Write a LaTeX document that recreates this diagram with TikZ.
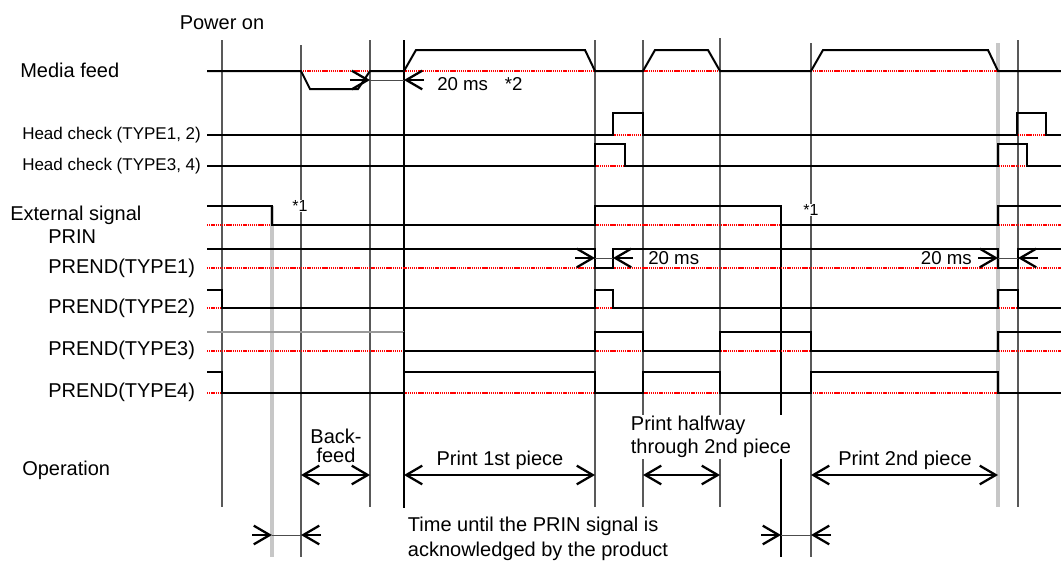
\documentclass[tikz,border=0pt]{standalone}
\usepackage{fontspec}
\setmainfont{Liberation Sans}
\usetikzlibrary{arrows.meta}
\tikzset{
    sigLine/.style={line width=1.5pt, black},
    baseLine/.style={line width=1.4pt, red, dash pattern=on 1pt off 0.6pt},
    guideLine/.style={line width=0.8pt, black!65},
    keyLine/.style={line width=1.1pt, black},
    ackLine/.style={line width=2.4pt, black!22},
    opArrow/.style={<->, line width=1.7pt},
    tickArrow/.style={->, line width=1.7pt},
    gapLine/.style={line width=0.7pt, black!70},
    sigLabel/.style={anchor=west, inner sep=0pt, font=\fontsize{15}{18}\selectfont},
    smallLabel/.style={anchor=west, inner sep=0pt, font=\fontsize{12.75}{15}\selectfont},
    msLabel/.style={inner sep=0pt, font=\fontsize{14}{16}\selectfont},
    opLabel/.style={inner sep=0.5pt, fill=white, font=\fontsize{15}{18}\selectfont}
}

\begin{document}
\begin{tikzpicture}[x=0.75pt, y=-0.75pt, >={Straight Barb[length=12pt,width=14pt]}]
    \useasboundingbox (0,0) rectangle (1061,561);
    % --- time marks ---
    \draw[ackLine] (272,206)--(272,557);
    \draw[ackLine] (998,43)--(998,507);
    \draw[guideLine] (222,40)--(222,507);
    \draw[guideLine] (301,45)--(301,557);
    \draw[guideLine] (370,40)--(370,507);
    \draw[keyLine]   (404,40)--(404,508);
    \draw[guideLine] (595,40)--(595,507);
    \draw[guideLine] (643,40)--(643,507);
    \draw[guideLine] (720,38)--(720,507);
    \draw[keyLine]   (781,206)--(781,557);
    \draw[guideLine] (811,43)--(811,557);
    \draw[guideLine] (1018,40)--(1018,507);
    % --- low levels ---
    \foreach \y in {71,135,166,225,268,308,351,393}
        \draw[baseLine] (207,\y)--(1061,\y);
    % --- signals ---
    \draw[sigLine] (207,71)--(301,71)--(310,89)--(358,89)--(370,71)--(404,71)--(416,50)--(585,50)--(595,71)--(643,71)--(655,50)--(708,50)--(720,71)--(811,71)--(823,50)--(988,50)--(998,71)--(1061,71);
    \draw[sigLine] (207,135)--(613,135)--(613,113)--(643,113)--(643,135)--(1017,135)--(1017,113)--(1046,113)--(1046,135)--(1061,135);
    \draw[sigLine] (207,166)--(595,166)--(595,144)--(625,144)--(625,166)--(998,166)--(998,144)--(1027,144)--(1027,166)--(1061,166);
    \draw[sigLine] (207,206)--(272,206)--(272,225)--(595,225)--(595,206)--(781,206)--(781,225)--(998,225)--(998,206)--(1061,206);
    \draw[sigLine] (207,249)--(595,249)--(595,268)--(613,268)--(613,249)--(998,249)--(998,268)--(1018,268)--(1018,249)--(1061,249);
    \draw[sigLine] (207,290)--(222,290)--(222,308)--(595,308)--(595,290)--(613,290)--(613,308)--(998,308)--(998,290)--(1018,290)--(1018,308)--(1061,308);
    \draw[sigLine,black!40] (207,332)--(404,332);
    \draw[sigLine] (404,332)--(404,351)--(595,351)--(595,332)--(643,332)--(643,351)--(720,351)--(720,332)--(811,332)--(811,351)--(998,351)--(998,332)--(1061,332);
    \draw[sigLine] (207,372)--(222,372)--(222,393)--(404,393)--(404,372)--(595,372)--(595,393)--(643,393)--(643,372)--(720,372)--(720,393)--(811,393)--(811,372)--(998,372)--(998,393)--(1061,393);
    % --- 20 ms gaps ---
    \coordinate (mfA) at (370,80); \coordinate (mfB) at (404,80);
    \draw[gapLine] (mfA)--(mfB);
    \draw[tickArrow] ([xshift=-15pt]mfA)--(mfA);
    \draw[tickArrow] ([xshift=15pt]mfB)--(mfB);
    \node[msLabel,anchor=west] (mfMs) at (437,84) {20 ms\hspace{0.9em}*2};
    \coordinate (e1A) at (595,258); \coordinate (e1B) at (613,258);
    \draw[gapLine] (e1A)--(e1B);
    \draw[tickArrow] ([xshift=-15pt]e1A)--(e1A);
    \draw[tickArrow] ([xshift=15pt]e1B)--(e1B);
    \node[msLabel,anchor=west] (e1Ms) at (648,258) {20 ms};
    \coordinate (e2A) at (998,258); \coordinate (e2B) at (1018,258);
    \draw[gapLine] (e2A)--(e2B);
    \draw[tickArrow] ([xshift=-15pt]e2A)--(e2A);
    \draw[tickArrow] ([xshift=15pt]e2B)--(e2B);
    \node[msLabel,anchor=east] (e2Ms) at (972,258) {20 ms};
    % --- acknowledge time ---
    \coordinate (ak1A) at (272,535); \coordinate (ak1B) at (301,535);
    \draw[gapLine] (ak1A)--(ak1B);
    \draw[tickArrow] ([xshift=-15pt]ak1A)--(ak1A);
    \draw[tickArrow] ([xshift=15pt]ak1B)--(ak1B);
    \coordinate (ak2A) at (781,535); \coordinate (ak2B) at (811,535);
    \draw[gapLine] (ak2A)--(ak2B);
    \draw[tickArrow] ([xshift=-15pt]ak2A)--(ak2A);
    \draw[tickArrow] ([xshift=15pt]ak2B)--(ak2B);
    \node[opLabel,anchor=west,align=left,font=\fontsize{15}{18.5}\selectfont] (ackTxt) at (407,539) {Time until the PRIN signal is\\acknowledged by the product};
    % --- operation ---
    \coordinate (bfA) at (301,475); \coordinate (bfB) at (370,475);
    \coordinate (p1A) at (404,475); \coordinate (p1B) at (595,475);
    \coordinate (phA) at (643,475); \coordinate (phB) at (720,475);
    \coordinate (p2A) at (811,475); \coordinate (p2B) at (998,475);
    \draw[opArrow] (bfA)--(bfB);
    \draw[opArrow] (p1A)--(p1B);
    \draw[opArrow] (phA)--(phB);
    \draw[opArrow] (p2A)--(p2B);
    \node[opLabel,align=center,font=\fontsize{15}{14.5}\selectfont] (bfTxt) at (336,446) {Back-\\feed};
    \node[opLabel] (p1Txt) at (500,460) {Print 1st piece};
    \node[opLabel,anchor=west,align=left,font=\fontsize{15}{17.5}\selectfont] (phTxt) at (630,437) {Print halfway\\through 2nd piece};
    \node[opLabel] (p2Txt) at (905,460) {Print 2nd piece};
    % --- notes ---
    \node[opLabel,font=\fontsize{12}{13}\selectfont] (n1a) at (300,206) {*1};
    \node[opLabel,font=\fontsize{12}{13}\selectfont] (n1b) at (811,210) {*1};
    \node[inner sep=0pt,font=\fontsize{15}{18}\selectfont] (pwr) at (222,23) {Power on};
    % --- signal names ---
    \node[sigLabel] (mf) at (20,70) {Media feed};
    \node[smallLabel] (hc12) at (22,135) {Head check (TYPE1, 2)};
    \node[smallLabel] (hc34) at (22,166) {Head check (TYPE3, 4)};
    \node[sigLabel] (ext) at (10,215) {External signal};
    \node[sigLabel] (prin) at (48,237) {PRIN};
    \node[sigLabel] (pe1) at (48,268) {PREND(TYPE1)};
    \node[sigLabel] (pe2) at (48,308) {PREND(TYPE2)};
    \node[sigLabel] (pe3) at (48,350) {PREND(TYPE3)};
    \node[sigLabel] (pe4) at (48,392) {PREND(TYPE4)};
    \node[sigLabel] (op) at (22,470) {Operation};
\end{tikzpicture}
\end{document}
